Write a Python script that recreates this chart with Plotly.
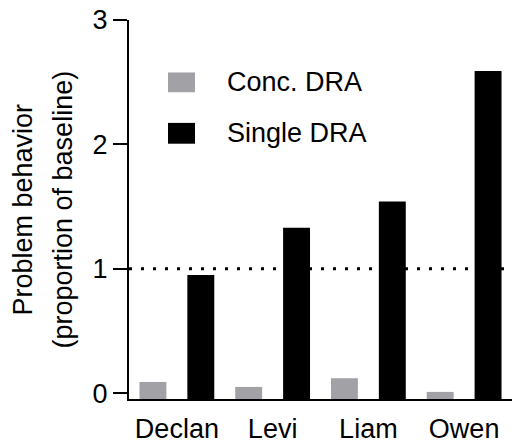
import plotly.graph_objects as go

# ---- data ----
participants = ["Declan", "Levi", "Liam", "Owen"]
conc_dra = [0.09, 0.05, 0.12, 0.01]
single_dra = [0.95, 1.33, 1.54, 2.59]
series_names = ["Conc. DRA", "Single DRA"]
y_ticks = [0, 1, 2, 3]
baseline_level = 1
y_title_lines = ["Problem behavior", "(proportion of baseline)"]

GRAY = "#a2a1a6"
BLACK = "#000000"
FONT = "Liberation Sans, Arial, Helvetica, sans-serif"
FS = 27
YMIN, YMAX = -0.047, 3

fig = go.Figure()
for name, vals, col in [(series_names[0], conc_dra, GRAY), (series_names[1], single_dra, BLACK)]:
    fig.add_trace(go.Bar(
        x=participants, y=[v - YMIN for v in vals], base=YMIN,
        name=name, marker=dict(color=col, line=dict(width=0)),
        showlegend=False,
    ))

# dotted baseline reference line
fig.add_shape(type="line", xref="paper", yref="y", x0=0, x1=1,
              y0=baseline_level, y1=baseline_level,
              line=dict(color="black", width=3, dash="3px,9px"), layer="above")

# custom legend
legend_rows = [(series_names[0], GRAY, 0.8616, 0.8094), (series_names[1], BLACK, 0.7285, 0.6736)]
for name, col, ytop, ybot in legend_rows:
    fig.add_shape(type="rect", xref="paper", yref="paper", x0=0.1018, x1=0.1723,
                  y0=ybot, y1=ytop, fillcolor=col, line=dict(width=0))
    fig.add_annotation(xref="paper", yref="paper", x=0.2507, y=(ytop + ybot) / 2,
                       text=name, showarrow=False, xanchor="left", yanchor="middle",
                       font=dict(family=FONT, size=FS, color="black"))

# y-axis title as two rotated lines
for txt, xpx in [(y_title_lines[0], 22), (y_title_lines[1], 62)]:
    fig.add_annotation(xref="paper", yref="paper", x=(xpx - 129) / 383, y=0.5,
                       text=txt, showarrow=False, textangle=-90,
                       xanchor="center", yanchor="middle",
                       font=dict(family=FONT, size=FS, color="black"))

fig.update_layout(
    width=512, height=444,
    margin=dict(l=129, r=0, t=20, b=41),
    paper_bgcolor="white", plot_bgcolor="white",
    barmode="group", bargap=0, bargroupgap=0.4375,
    font=dict(family=FONT, size=FS, color="black"),
    showlegend=False,
)
fig.update_xaxes(
    showline=True, linecolor="black", linewidth=2, ticks="",
    showgrid=False, zeroline=False, ticklabelstandoff=5,
    tickfont=dict(family=FONT, size=FS, color="black"),
)
fig.update_yaxes(
    range=[YMIN, YMAX], tickvals=y_ticks, showline=True, linecolor="black",
    linewidth=2, ticks="outside", ticklen=14, tickwidth=2, tickcolor="black",
    showgrid=False, zeroline=False,
    tickfont=dict(family=FONT, size=FS, color="black"),
)

fig.write_html("out.html")
